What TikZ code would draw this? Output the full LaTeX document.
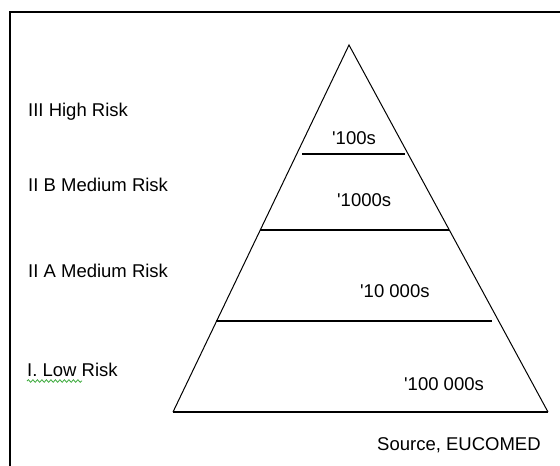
\documentclass[tikz,border=0pt]{standalone}
\usepackage{fontspec}
\setmainfont{Liberation Sans}
\usetikzlibrary{decorations.pathmorphing}
\definecolor{RiskInk}{HTML}{000000}
\definecolor{SpellGreen}{HTML}{3DAA3D}
\tikzset{
  tierlabel/.style={anchor=base west,inner sep=0pt,text=RiskInk},
  countlabel/.style={anchor=base west,inner sep=0pt,text=RiskInk},
  pyramid/.style={draw=RiskInk,line width=1pt,line join=miter},
  tierline/.style={draw=RiskInk,line width=1.6pt},
  frameline/.style={draw=RiskInk,line width=2pt},
  squiggle/.style={draw=SpellGreen,line width=0.8pt,decorate,decoration={snake,amplitude=1.3pt,segment length=4.5pt}}
}
\begin{document}
\begin{tikzpicture}[x=1pt,y=-1pt,font=\fontsize{18.5}{22}\selectfont]
  \useasboundingbox (0,0) rectangle (560,466);
  \draw[frameline] (10,466) -- (10,12) -- (560,12);
  % pyramid outline
  \coordinate (apex) at (349,45);
  \coordinate (baseL) at (173,412);
  \coordinate (baseR) at (548,412);
  \draw[pyramid] (baseL) -- (apex) -- (baseR);
  \draw[tierline] (baseL) -- (baseR);
  % tier boundaries
  \coordinate (hiL) at (302,154);  \coordinate (hiR) at (405,154);
  \coordinate (mbL) at (260,230);  \coordinate (mbR) at (449,230);
  \coordinate (maL) at (216,321);  \coordinate (maR) at (492,321);
  \draw[tierline] (hiL) -- (hiR);
  \draw[tierline] (mbL) -- (mbR);
  \draw[tierline] (maL) -- (maR);
  % risk classes
  \node[tierlabel] (high) at (28,116) {III High Risk};
  \node[tierlabel] (medB) at (28,191) {II B Medium Risk};
  \node[tierlabel] (medA) at (28,277) {II A Medium Risk};
  \node[tierlabel] (low) at (27,376) {I. Low Risk};
  \draw[squiggle] ([yshift=-5pt]low.base west) -- ++(55,0);
  % device counts per tier
  \node[countlabel] (c100) at (332,144) {\textquotesingle100s};
  \node[countlabel] (c1000) at (337,206) {\textquotesingle1000s};
  \node[countlabel] (c10k) at (360,297) {\textquotesingle10 000s};
  \node[countlabel] (c100k) at (404,390) {\textquotesingle100 000s};
  \node[countlabel] (src) at (377,450) {Source, EUCOMED};
\end{tikzpicture}
\end{document}
